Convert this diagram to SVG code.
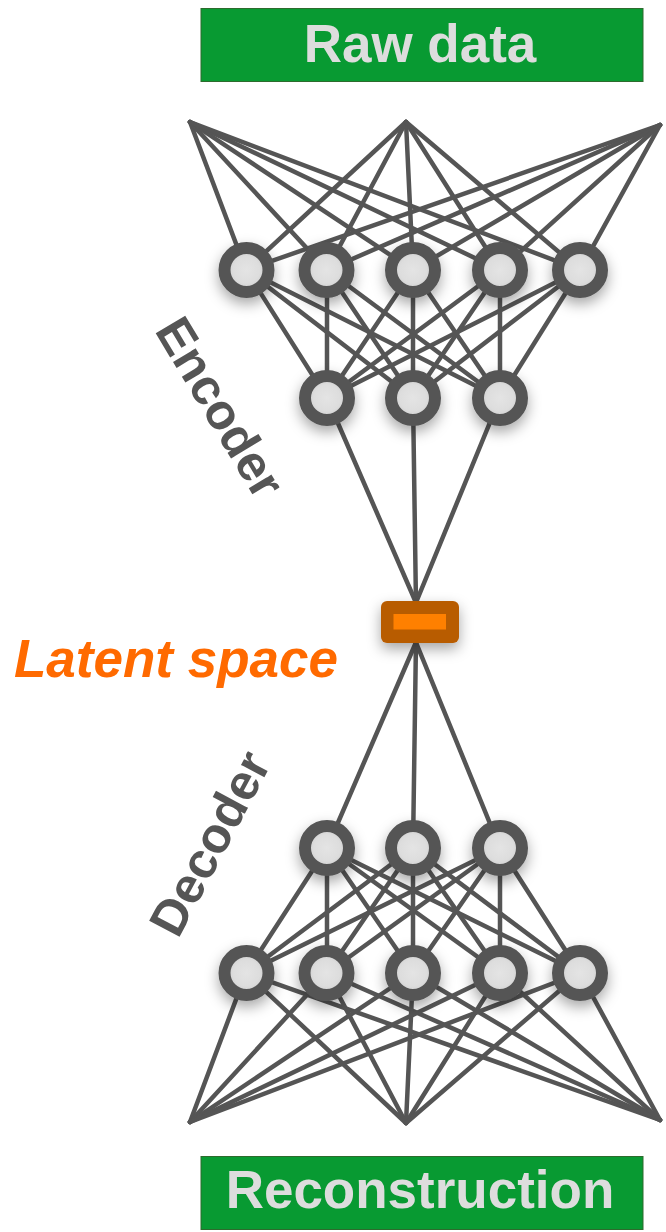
<svg xmlns="http://www.w3.org/2000/svg" width="666" height="1232" viewBox="0 0 666 1232">
<style>
.box{fill:#089a32;stroke:#2d6b2d;stroke-width:1}
.boxt{font-family:"Liberation Sans",Arial,sans-serif;font-weight:bold;font-size:53px;fill:#dddddd;text-anchor:middle}
.lbl{font-family:"Liberation Sans",Arial,sans-serif;font-weight:bold;font-size:50px;fill:#555555;text-anchor:middle}
.lat{font-family:"Liberation Sans",Arial,sans-serif;font-weight:bold;font-style:italic;font-size:53px;fill:#ff6a00}
.edges line{stroke:#555555;stroke-width:4.5;stroke-linecap:round}
.node circle{fill:url(#inner);stroke:#555555;stroke-width:12}
</style>
<defs>
<filter id="sh" x="-60%" y="-60%" width="220%" height="220%">
<feDropShadow dx="0" dy="6" stdDeviation="7" flood-color="#000" flood-opacity="0.35"/>
</filter>
<radialGradient id="inner">
<stop offset="0" stop-color="#e4e4e4"/>
<stop offset="0.6" stop-color="#dddddd"/>
<stop offset="1" stop-color="#c8c8c8"/>
</radialGradient>
</defs>
<rect width="666" height="1232" fill="#ffffff"/>
<g id="raw-data">
<rect class="box" x="201" y="8.5" width="442" height="73"/>
<text class="boxt" x="420" y="62">Raw data</text>
</g>
<g id="reconstruction">
<rect class="box" x="201" y="1156.5" width="442" height="73"/>
<text class="boxt" x="420" y="1208">Reconstruction</text>
</g>
<g id="connectors" class="edges">
<line x1="190" y1="122" x2="246" y2="270"/><line x1="190" y1="122" x2="327" y2="270"/><line x1="190" y1="122" x2="413" y2="270"/><line x1="190" y1="122" x2="500" y2="270"/><line x1="190" y1="122" x2="580" y2="270"/>
<line x1="406" y1="122" x2="246" y2="270"/><line x1="406" y1="122" x2="327" y2="270"/><line x1="406" y1="122" x2="413" y2="270"/><line x1="406" y1="122" x2="500" y2="270"/><line x1="406" y1="122" x2="580" y2="270"/>
<line x1="660" y1="125" x2="246" y2="270"/><line x1="660" y1="125" x2="327" y2="270"/><line x1="660" y1="125" x2="413" y2="270"/><line x1="660" y1="125" x2="500" y2="270"/><line x1="660" y1="125" x2="580" y2="270"/>
<line x1="246" y1="270" x2="327" y2="398"/><line x1="246" y1="270" x2="413" y2="398"/><line x1="246" y1="270" x2="500" y2="398"/>
<line x1="327" y1="270" x2="327" y2="398"/><line x1="327" y1="270" x2="413" y2="398"/><line x1="327" y1="270" x2="500" y2="398"/>
<line x1="413" y1="270" x2="327" y2="398"/><line x1="413" y1="270" x2="413" y2="398"/><line x1="413" y1="270" x2="500" y2="398"/>
<line x1="500" y1="270" x2="327" y2="398"/><line x1="500" y1="270" x2="413" y2="398"/><line x1="500" y1="270" x2="500" y2="398"/>
<line x1="580" y1="270" x2="327" y2="398"/><line x1="580" y1="270" x2="413" y2="398"/><line x1="580" y1="270" x2="500" y2="398"/>
<line x1="327" y1="398" x2="417" y2="605"/><line x1="413" y1="398" x2="416" y2="605"/><line x1="500" y1="398" x2="415" y2="605"/>
<line x1="417" y1="640" x2="327" y2="848"/><line x1="416" y1="640" x2="413" y2="848"/><line x1="415" y1="640" x2="500" y2="848"/>
<line x1="327" y1="848" x2="246" y2="973"/><line x1="327" y1="848" x2="327" y2="973"/><line x1="327" y1="848" x2="413" y2="973"/><line x1="327" y1="848" x2="500" y2="973"/><line x1="327" y1="848" x2="580" y2="973"/>
<line x1="413" y1="848" x2="246" y2="973"/><line x1="413" y1="848" x2="327" y2="973"/><line x1="413" y1="848" x2="413" y2="973"/><line x1="413" y1="848" x2="500" y2="973"/><line x1="413" y1="848" x2="580" y2="973"/>
<line x1="500" y1="848" x2="246" y2="973"/><line x1="500" y1="848" x2="327" y2="973"/><line x1="500" y1="848" x2="413" y2="973"/><line x1="500" y1="848" x2="500" y2="973"/><line x1="500" y1="848" x2="580" y2="973"/>
<line x1="246" y1="973" x2="190" y2="1122"/><line x1="246" y1="973" x2="406" y2="1123"/><line x1="246" y1="973" x2="660" y2="1120"/>
<line x1="327" y1="973" x2="190" y2="1122"/><line x1="327" y1="973" x2="406" y2="1123"/><line x1="327" y1="973" x2="660" y2="1120"/>
<line x1="413" y1="973" x2="190" y2="1122"/><line x1="413" y1="973" x2="406" y2="1123"/><line x1="413" y1="973" x2="660" y2="1120"/>
<line x1="500" y1="973" x2="190" y2="1122"/><line x1="500" y1="973" x2="406" y2="1123"/><line x1="500" y1="973" x2="660" y2="1120"/>
<line x1="580" y1="973" x2="190" y2="1122"/><line x1="580" y1="973" x2="406" y2="1123"/><line x1="580" y1="973" x2="660" y2="1120"/>
</g>
<g id="enc-l1" class="node" filter="url(#sh)">
<circle cx="246.5" cy="270" r="22"/><circle cx="326.5" cy="270" r="22"/><circle cx="413" cy="270" r="22"/><circle cx="500" cy="270" r="22"/><circle cx="580" cy="270" r="22"/>
</g>
<g id="enc-l2" class="node" filter="url(#sh)">
<circle cx="327" cy="398" r="22"/><circle cx="413" cy="398" r="22"/><circle cx="500" cy="398" r="22"/>
</g>
<g id="latent" filter="url(#sh)">
<rect x="381" y="601" width="78" height="42" rx="6" fill="#b85c00"/>
<rect x="393.5" y="614" width="52.5" height="15.5" fill="#ff8000"/>
</g>
<g id="dec-l1" class="node" filter="url(#sh)">
<circle cx="327" cy="848" r="22"/><circle cx="413" cy="848" r="22"/><circle cx="500" cy="848" r="22"/>
</g>
<g id="dec-l2" class="node" filter="url(#sh)">
<circle cx="246.5" cy="973" r="22"/><circle cx="326.5" cy="973" r="22"/><circle cx="413" cy="973" r="22"/><circle cx="500" cy="973" r="22"/><circle cx="580" cy="973" r="22"/>
</g>
<g id="encoder-label">
<text class="lbl" transform="translate(221,407) rotate(59)" x="0" y="18">Encoder</text>
</g>
<g id="decoder-label">
<text class="lbl" transform="translate(209,843) rotate(-62)" x="0" y="18">Decoder</text>
</g>
<g id="latent-label">
<text class="lat" x="14" y="677">Latent space</text>
</g>
</svg>
